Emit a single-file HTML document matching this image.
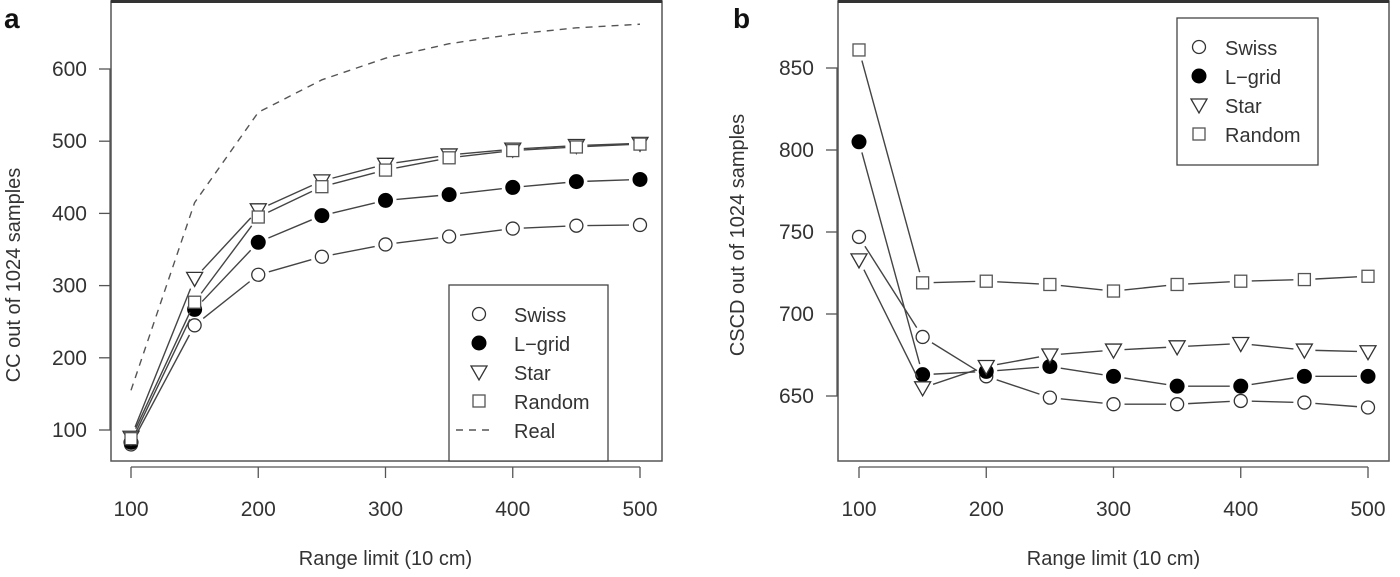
<!DOCTYPE html>
<html><head><meta charset="utf-8"><style>
html,body{margin:0;padding:0;background:#fff;}
svg{display:block;font-family:"Liberation Sans",sans-serif;}
</style></head><body>
<svg id="c" width="1400" height="577" viewBox="0 0 1400 577"></svg>
<script>
const xCats=[100,150,200,250,300,350,400,450,500];
const xTicks=[100,200,300,400,500];
const aSwiss=[80,245,315,340,357,368,379,383,384];
const aLgrid=[83,267,360,397,418,426,436,444,447];
const aStar=[90,310,405,445,468,481,489,494,497];
const aRandom=[88,277,395,437,460,477,487,492,496];
const aReal=[155,415,540,585,615,635,648,657,662];
const aYTicks=[100,200,300,400,500,600];
const bSwiss=[747,686,662,649,645,645,647,646,643];
const bLgrid=[805,663,665,668,662,656,656,662,662];
const bStar=[733,655,668,675,678,680,682,678,677];
const bRandom=[861,719,720,718,714,718,720,721,723];
const bYTicks=[650,700,750,800,850];
const legendNames=["Swiss","L\u2212grid","Star","Random"];

const NS="http://www.w3.org/2000/svg";
const svg=document.getElementById('c');
function mk(tag,attrs,parent,text){const e=document.createElementNS(NS,tag);for(const k in attrs)e.setAttribute(k,attrs[k]);if(text!==undefined)e.textContent=text;(parent||svg).appendChild(e);return e;}
const LC="#444";

function marker(g,type,x,y){
  let m;
  if(type===0){m=mk('circle',{cx:x,cy:y,r:6.5,fill:'#fff',stroke:'#333','stroke-width':1.3},g);}
  else if(type===1){m=mk('circle',{cx:x,cy:y,r:7,fill:'#000',stroke:'#000','stroke-width':1},g);}
  else if(type===2){m=mk('polygon',{points:`${x-8},${y-6} ${x+8},${y-6} ${x},${y+8}`,fill:'#fff',stroke:'#333','stroke-width':1.3},g);}
  else {m=mk('rect',{x:x-6,y:y-6,width:12,height:12,fill:'#fff',stroke:'#555','stroke-width':1.3},g);}
  
  
  return m;
}
function gappedLine(g,pts){
  for(let i=0;i<pts.length-1;i++){
    const [x1,y1]=pts[i],[x2,y2]=pts[i+1];
    const dx=x2-x1,dy=y2-y1,L=Math.hypot(dx,dy),gap=11;
    if(L<=2*gap)continue;
    const s=mk('line',{x1:x1+dx/L*gap,y1:y1+dy/L*gap,x2:x2-dx/L*gap,y2:y2-dy/L*gap,stroke:LC,'stroke-width':1.4},g);
    
    
  }
}
function panel(cfg){
  const g=mk('g',{});
  
  
  const X=v=>cfg.x0+(v-100)*(cfg.x1-cfg.x0)/400;
  const Y=v=>cfg.yb-(v-cfg.vb)*cfg.k;
  const box=mk('rect',{x:cfg.bl,y:1,width:cfg.br-cfg.bl,height:460,fill:'none',stroke:'#555','stroke-width':1.5},g);
  
  mk('line',{x1:cfg.bl,y1:1.5,x2:cfg.br,y2:1.5,stroke:'#333','stroke-width':3},g);
  const xa=mk('g',{},g);
  
  mk('line',{x1:X(100),y1:467,x2:X(500),y2:467,stroke:'#555','stroke-width':1.3},xa);
  xTicks.forEach(t=>{mk('line',{x1:X(t),y1:467,x2:X(t),y2:478,stroke:'#555','stroke-width':1.3},xa);
    const tl=mk('text',{x:X(t),y:516,'text-anchor':'middle','font-size':21,fill:'#333'},xa,String(t));
    });
  const ya=mk('g',{},g);
  
  mk('line',{x1:cfg.bl-1,y1:Y(cfg.yt[0]),x2:cfg.bl-1,y2:Y(cfg.yt[cfg.yt.length-1]),stroke:'#555','stroke-width':1.3},ya);
  cfg.yt.forEach(t=>{mk('line',{x1:cfg.bl-12,y1:Y(t),x2:cfg.bl,y2:Y(t),stroke:'#555','stroke-width':1.3},ya);
    const tl=mk('text',{x:cfg.bl-24,y:Y(t)+7,'text-anchor':'end','font-size':21,fill:'#333'},ya,String(t));
    });
  const xt=mk('text',{x:(X(100)+X(500))/2,y:565,'text-anchor':'middle','font-size':20,fill:'#333'},g,'Range limit (10 cm)');
  
  const yt=mk('text',{x:0,y:0,'text-anchor':'middle','font-size':20,fill:'#333',transform:`translate(${cfg.ytx},${cfg.yty}) rotate(-90)`},g,cfg.ytitle);
  
  const pl=mk('text',{x:cfg.plx,y:28,'font-size':28,'font-weight':'bold',fill:'#111'},g,cfg.letter);
  
  if(cfg.real){
    const p=mk('polyline',{points:cfg.real.map((v,i)=>X(xCats[i])+','+Y(v)).join(' '),fill:'none',stroke:'#555','stroke-width':1.4,'stroke-dasharray':'7,6'},g);
    
  }
  cfg.series.forEach((s,si)=>{
    const sg=mk('g',{},g);
    
    
    const pts=s.map((v,i)=>[X(xCats[i]),Y(v)]);
    gappedLine(sg,pts);
    pts.forEach(p=>marker(sg,si,p[0],p[1]));
  });
  const lg=mk('g',{},g);
  
  mk('rect',{x:cfg.lx,y:cfg.ly,width:cfg.lw,height:cfg.lh,fill:'#fff',stroke:'#444','stroke-width':1.3},lg);
  const names=cfg.real?legendNames.concat(['Real']):legendNames;
  names.forEach((n,i)=>{
    const ey=cfg.ly+30+i*29;
    const e=mk('g',{},lg);
    
    if(i<4)marker(e,i,cfg.lx+cfg.mo,ey-1);
    else mk('line',{x1:cfg.lx+7,y1:ey-1,x2:cfg.lx+46,y2:ey-1,stroke:'#555','stroke-width':1.4,'stroke-dasharray':'7,6'},e);
    mk('text',{x:cfg.lx+cfg.to,y:ey+7,'font-size':20,fill:'#333'},e,n);
  });
}
panel({name:'panel-a',letter:'a',plx:4,x0:131,x1:640,bl:111,br:662,yb:430,vb:100,k:0.722,yt:aYTicks,
  ytitle:'CC out of 1024 samples',ytx:20,yty:275,series:[aSwiss,aLgrid,aStar,aRandom],real:aReal,
  lx:449,ly:285,lw:159,lh:176,mo:30,to:65});
panel({name:'panel-b',letter:'b',plx:733,x0:859,x1:1368,bl:838,br:1389,yb:396,vb:650,k:1.64,yt:bYTicks,
  ytitle:'CSCD out of 1024 samples',ytx:744,yty:235,series:[bSwiss,bLgrid,bStar,bRandom],
  lx:1177,ly:18,lw:141,lh:147,mo:22,to:48});
</script>
</body></html>
